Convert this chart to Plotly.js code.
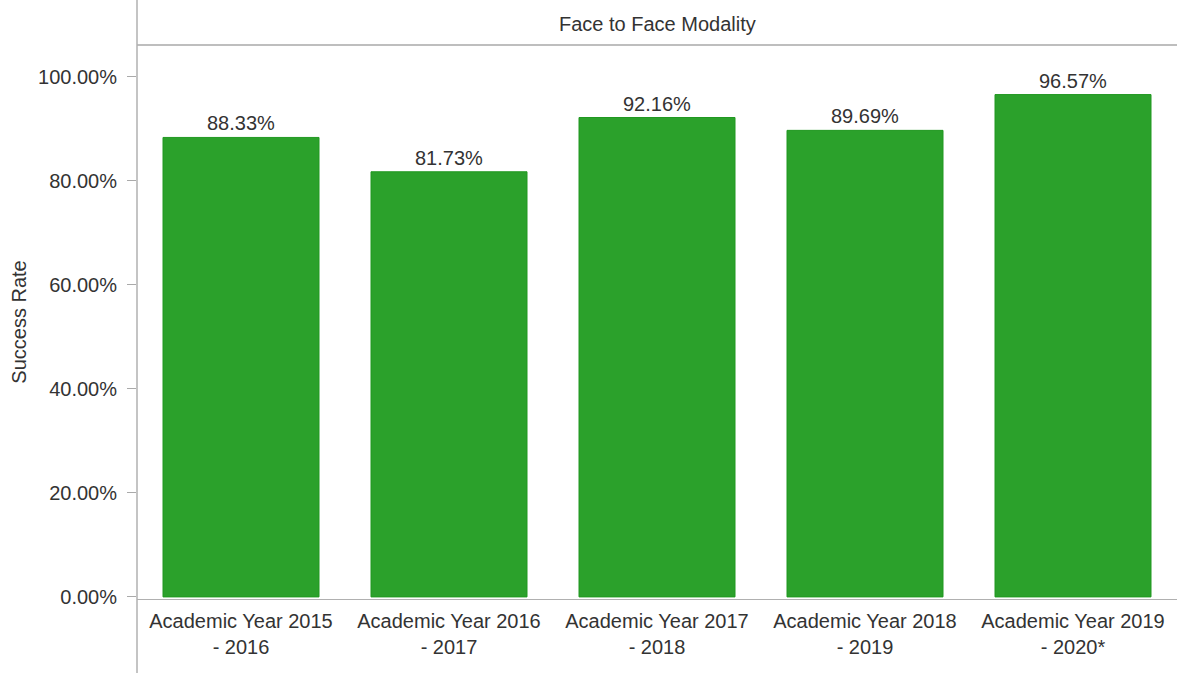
<!DOCTYPE html>
<html>
<head>
<meta charset="utf-8">
<script src="https://cdn.plot.ly/plotly-3.0.1.min.js"></script>
<style>
  html, body { margin: 0; padding: 0; background: #fff; }
  #chart { width: 1178px; height: 673px; }
</style>
</head>
<body>
<div id="chart"></div>
<script>
const categories = [
  'Academic Year 2015<br>- 2016',
  'Academic Year 2016<br>- 2017',
  'Academic Year 2017<br>- 2018',
  'Academic Year 2018<br>- 2019',
  'Academic Year 2019<br>- 2020*'
];
const successRate = [88.33, 81.73, 92.16, 89.69, 96.57];
const headerTitle = 'Face to Face Modality';
const yTitle = 'Success Rate';

const W = 1178, H = 673;
const mL = 137, mR = 1, mT = 45, mB = 74;
const plotH = H - mT - mB;

const trace = {
  type: 'bar',
  x: categories,
  y: successRate,
  marker: { color: '#2ba12b', line: { color: '#219821', width: 1 } },
  width: 0.75,
  text: successRate.map(v => v.toFixed(2) + '%'),
  textposition: 'outside',
  textfont: { family: 'Liberation Sans, Arial, sans-serif', size: 20, color: '#333' },
  cliponaxis: false,
  hoverinfo: 'skip'
};

const layout = {
  width: W, height: H,
  margin: { l: mL, r: mR, t: mT, b: mB, pad: 0 },
  paper_bgcolor: '#fff',
  plot_bgcolor: '#fff',
  showlegend: false,
  bargap: 0.25,
  font: { family: 'Liberation Sans, Arial, sans-serif', color: '#333' },
  xaxis: {
    type: 'category',
    showgrid: false,
    showline: true,
    linecolor: '#b0b0b0',
    linewidth: 1,
    ticks: 'outside',
    ticklen: 4,
    tickcolor: 'rgba(0,0,0,0)',
    tickfont: { size: 20, color: '#333' },
    automargin: false,
    fixedrange: true
  },
  yaxis: {
    range: [-0.4, 106.1],
    tickvals: [0, 20, 40, 60, 80, 100],
    ticktext: ['0.00%', '20.00%', '40.00%', '60.00%', '80.00%', '100.00%'],
    showgrid: false,
    zeroline: false,
    showline: false,
    ticks: 'outside',
    ticklen: 9,
    tickcolor: '#aaa',
    tickfont: { size: 20, color: '#333' },
    ticklabelstandoff: 6,
    title: { text: yTitle, font: { size: 20, color: '#333' }, standoff: 6 },
    automargin: false,
    fixedrange: true
  },
  shapes: [
    { type: 'line', xref: 'paper', yref: 'paper', x0: 0, x1: 1, y0: 1, y1: 1,
      line: { color: '#a8a8a8', width: 1.5 } },
    { type: 'line', xref: 'paper', yref: 'paper', x0: 0, x1: 0, y0: -mB / plotH, y1: 1 + mT / plotH,
      line: { color: '#b0b0b0', width: 1.5 } }
  ],
  annotations: [
    { text: headerTitle, xref: 'paper', yref: 'paper', x: 0.5, y: 1 + 21 / plotH,
      xanchor: 'center', yanchor: 'middle', showarrow: false,
      font: { size: 20, color: '#333' } }
  ]
};

Plotly.newPlot('chart', [trace], layout, { displayModeBar: false, staticPlot: true });
</script>
</body>
</html>
